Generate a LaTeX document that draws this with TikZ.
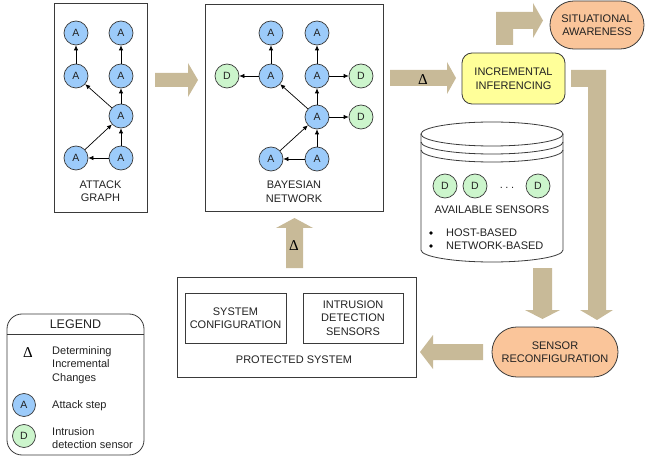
\documentclass[tikz,border=0pt]{standalone}
\usepackage{fontspec}
\setmainfont{Liberation Sans}
\newfontfamily\deltafont{Liberation Serif}
\usetikzlibrary{arrows.meta}
\definecolor{tanc}{HTML}{C8BA98}
\definecolor{ablue}{HTML}{9CCBFA}
\definecolor{dgreen}{HTML}{CCF5CC}
\definecolor{orangec}{HTML}{FAC59A}
\definecolor{yellowc}{HTML}{FFFF99}
\definecolor{edgec}{HTML}{3A3A3A}
\definecolor{txtc}{HTML}{222222}
\begin{document}
\begin{tikzpicture}[x=1pt,y=-1pt,
  font=\fontsize{11}{13.5}\selectfont, text=txtc,
  anode/.style={circle, draw=edgec, line width=0.7pt, fill=ablue, minimum size=24pt, inner sep=0pt, font=\fontsize{10.5}{11}\selectfont},
  dnode/.style={anode, fill=dgreen},
  edge/.style={-{Latex[length=5pt,width=4.5pt]}, line width=0.7pt, draw=black},
  panel/.style={draw=edgec, line width=0.8pt, inner sep=0pt},
  lbl/.style={align=center, inner sep=0pt},
  bigarrow/.style={fill=tanc, draw=none},
  deltalbl/.style={font=\deltafont\fontsize{15}{15}\selectfont, inner sep=0pt, text=black}]

\useasboundingbox (0,0) rectangle (646,468);

% ---------- panels ----------
\node[panel, minimum width=93pt, minimum height=209pt] (ag) at (100.5,107.5) {};
\node[lbl] (agl) at (100.5,191) {ATTACK\\GRAPH};
\node[panel, minimum width=178pt, minimum height=207pt] (bn) at (294,107.5) {};
\node[lbl] (bnl) at (294,191.5) {BAYESIAN\\NETWORK};

% ---------- attack graph ----------
\node[anode] (a1) at (76,33) {A};
\node[anode] (a2) at (121,33) {A};
\node[anode] (a3) at (76,76) {A};
\node[anode] (a4) at (121,76) {A};
\node[anode] (a5) at (121,116) {A};
\node[anode] (a6) at (76,158) {A};
\node[anode] (a7) at (121,158) {A};
\draw[edge] (a3) -- (a1);
\draw[edge] (a4) -- (a2);
\draw[edge] (a5) -- (a3);
\draw[edge] (a5) -- (a4);
\draw[edge] (a6) -- (a5);
\draw[edge] (a7) -- (a5);
\draw[edge] (a7) -- (a6);

% ---------- bayesian network ----------
\node[anode] (b1) at (271,33) {A};
\node[anode] (b2) at (317,33) {A};
\node[dnode] (bd1) at (227,76) {D};
\node[anode] (b3) at (271,76) {A};
\node[anode] (b4) at (317,76) {A};
\node[dnode] (bd2) at (361,76) {D};
\node[anode] (b5) at (317,117) {A};
\node[dnode] (bd3) at (361,117) {D};
\node[anode] (b6) at (271,159) {A};
\node[anode] (b7) at (317,159) {A};
\draw[edge] (b3) -- (b1);
\draw[edge] (b4) -- (b2);
\draw[edge] (b3) -- (bd1);
\draw[edge] (b4) -- (bd2);
\draw[edge] (b5) -- (b3);
\draw[edge] (b5) -- (b4);
\draw[edge] (b5) -- (bd3);
\draw[edge] (b6) -- (b5);
\draw[edge] (b7) -- (b5);
\draw[edge] (b7) -- (b6);

% ---------- process boxes ----------
\node[lbl, draw=edgec, line width=0.8pt, fill=yellowc, rounded corners=10pt, minimum width=103pt, minimum height=51pt] (ii) at (513.5,78.5) {INCREMENTAL\\INFERENCING};
\node[lbl, draw=edgec, line width=0.8pt, fill=orangec, rounded corners=23.9pt, minimum width=94pt, minimum height=48pt] (sa) at (597,25) {SITUATIONAL\\AWARENESS};
\node[lbl, draw=edgec, line width=0.8pt, fill=orangec, rounded corners=24.9pt, minimum width=126pt, minimum height=50pt] (sr) at (555,352) {SENSOR\\RECONFIGURATION};

% ---------- protected system ----------
\node[panel, minimum width=239pt, minimum height=100pt] (ps) at (296.5,327) {};
\node[lbl, draw=edgec, line width=0.8pt, minimum width=101pt, minimum height=50pt] (sc) at (235.5,318) {SYSTEM\\CONFIGURATION};
\node[lbl, draw=edgec, line width=0.8pt, minimum width=100pt, minimum height=50pt] (ids) at (353,318) {INTRUSION\\DETECTION\\SENSORS};
\node[lbl] (psl) at (294,360) {PROTECTED SYSTEM};

% ---------- available sensors database ----------
\draw[edgec, line width=0.8pt] (421,134) -- (421,250) arc[start angle=180, end angle=0, x radius=71, y radius=12] -- (563,134);
\draw[edgec, line width=0.8pt] (492,134) ellipse [x radius=71, y radius=12];
\draw[edgec, line width=0.8pt] (421,142) arc[start angle=180, end angle=0, x radius=71, y radius=12];
\draw[edgec, line width=0.8pt] (421,150) arc[start angle=180, end angle=0, x radius=71, y radius=12];
\node[dnode] (s1) at (445,186) {D};
\node[dnode] (s2) at (475,186) {D};
\node[lbl] (sdots) at (507,188) {.\hspace{2.5pt}.\hspace{2.5pt}.};
\node[dnode] (s3) at (538,186) {D};
\node[lbl] (avl) at (492,210) {AVAILABLE SENSORS};
\fill[black] (431,233) circle (1.8);
\fill[black] (431,246) circle (1.8);
\node[lbl, anchor=west] (hb) at (446,233) {HOST-BASED};
\node[lbl, anchor=west] (nb) at (446,246) {NETWORK-BASED};

% ---------- big arrows ----------
\fill[bigarrow] (155,73) -- (188,73) -- (188,63) -- (198,80) -- (188,97) -- (188,87) -- (155,87) -- cycle;
\fill[bigarrow] (390,70) -- (447,70) -- (447,62) -- (456,78) -- (447,94) -- (447,86) -- (390,86) -- cycle;
\node[deltalbl] (d1) at (423,80) {Δ};
\fill[bigarrow] (496,45) -- (496,12) -- (533,12) -- (533,3) -- (543,20.5) -- (533,38) -- (533,29) -- (513,29) -- (513,45) -- cycle;
\fill[bigarrow] (571,70) -- (606,70) -- (606,310) -- (613,310) -- (597,320) -- (580,310) -- (588,310) -- (588,87) -- (571,87) -- cycle;
\fill[bigarrow] (533,268) -- (552,268) -- (552,310) -- (560,310) -- (542.5,319) -- (525,310) -- (533,310) -- cycle;
\fill[bigarrow] (483,344) -- (433,344) -- (433,335) -- (420,352) -- (433,369) -- (433,360) -- (483,360) -- cycle;
\fill[bigarrow] (286,268) -- (286,228) -- (276,228) -- (294.5,218) -- (313,228) -- (303,228) -- (303,268) -- cycle;
\node[deltalbl] (d2) at (294,246) {Δ};

% ---------- legend ----------
\node[draw=edgec, line width=0.8pt, rounded corners=15pt, minimum width=137pt, minimum height=141pt, inner sep=0pt] (leg) at (75.5,384.5) {};
\draw[edgec, line width=0.8pt] (leg.west |- 0,334) -- (leg.east |- 0,334);
\node[lbl, font=\fontsize{12.5}{13}\selectfont] (legt) at (75.5,324) {LEGEND};
\node[deltalbl] (ld) at (28,353) {Δ};
\node[lbl, align=left, anchor=west] (ldt) at (52,365) {Determining\\Incremental\\Changes};
\node[anode, minimum size=23pt] (la) at (24,405) {A};
\node[lbl, anchor=west] (lat) at (52,406) {Attack step};
\node[dnode, minimum size=23pt] (ldn) at (24,436) {D};
\node[lbl, align=left, anchor=west] (ldnt) at (52,438) {Intrusion\\detection sensor};
\end{tikzpicture}
\end{document}
